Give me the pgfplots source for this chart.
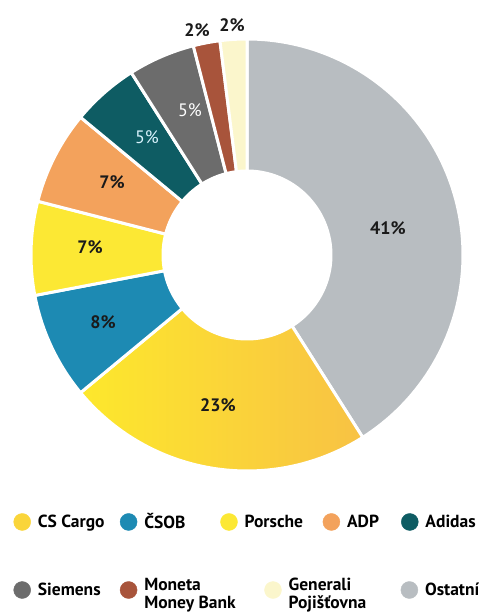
\documentclass[border=0pt]{standalone}
\usepackage{pgfplots}
\pgfplotsset{compat=1.18}
\usepackage{fontspec}
\setmainfont{PT Sans}
\definecolor{ostatni}{HTML}{B8BDC1}
\definecolor{cargoL}{HTML}{FDE82C}
\definecolor{cargoR}{HTML}{F8C244}
\definecolor{cargo}{HTML}{FAD53A}
\definecolor{csob}{HTML}{1D8AB3}
\definecolor{porsche}{HTML}{FCE834}
\definecolor{adp}{HTML}{F3A25C}
\definecolor{adidas}{HTML}{0E5C63}
\definecolor{siemens}{HTML}{6C6C6C}
\definecolor{moneta}{HTML}{A8543B}
\definecolor{generali}{HTML}{FBF6CC}
\definecolor{lbl}{HTML}{1A1A1A}
\newcommand\Ro{216}
\newcommand\Ri{84}
% \slice{cumulative start (%)}{share (%)}{fill options}
\newcommand\slice[3]{%
\addplot[#3, draw=white, line width=3pt, domain=0:2, samples=201, variable=\t]
 ({ifthenelse(\t<=1, \Ro*cos(90-3.6*(#1+#2*\t)), \Ri*cos(90-3.6*(#1+#2*min(1,(2-\t)*100/99))))},
  {ifthenelse(\t<=1, \Ro*sin(90-3.6*(#1+#2*\t)), \Ri*sin(90-3.6*(#1+#2*min(1,(2-\t)*100/99))))}) -- cycle;
}
\pgfplotsset{
  base/.style={x=1pt, y=1pt, xmin=-247, xmax=242, ymin=-358, ymax=255, hide axis, clip=false},
  circ/.style={legend image code/.code={\fill[#1] (8.5pt,0pt) circle (8.5pt);}},
  leg/.style={legend style={draw=none, fill=none, inner sep=0pt, outer sep=0pt, column sep=0pt,
     font=\bfseries\fontsize{17.5}{18}\selectfont, nodes={inner xsep=0pt, inner ysep=1pt}},
     legend cell align=left},
}
\newcommand\lt[2]{\makebox[#1pt][l]{\hspace{7pt}#2}}
\begin{document}
\begin{tikzpicture}
\begin{axis}[base]
% shares (%) clockwise from 12 o'clock: Ostatni 41, CS Cargo 23, CSOB 8, Porsche 7, ADP 7, Adidas 5, Siemens 5, Moneta 2, Generali 2
\slice{0}{41}{fill=ostatni}
\slice{41}{23}{left color=cargoL, right color=cargoR}
\slice{64}{8}{fill=csob}
\slice{72}{7}{fill=porsche}
\slice{79}{7}{fill=adp}
\slice{86}{5}{fill=adidas}
\slice{91}{5}{fill=siemens}
\slice{96}{2}{fill=moneta}
\slice{98}{2}{fill=generali}
\begin{scope}[every node/.style={font=\bfseries\fontsize{18}{18}\selectfont, text=lbl}]
\node at (axis cs:141,27) {41\%};
\node at (axis cs:-29,-150) {23\%};
\node at (axis cs:-144,-67) {8\%};
\node at (axis cs:-157,8) {7\%};
\node at (axis cs:-135,73) {7\%};
\node at (axis cs:-50,225) {2\%};
\node at (axis cs:-15,230) {2\%};
\end{scope}
\node[font=\fontsize{18}{18}\selectfont, text=white!85!cyan] at (axis cs:-100,118) {5\%};
\node[font=\fontsize{18}{18}\selectfont, text=white] at (axis cs:-57,145) {5\%};
\end{axis}
\begin{axis}[base, leg, legend columns=5, legend style={at={(0.0276,0.1485)}, anchor=west}]
\addlegendimage{circ=cargo}\addlegendentry{\lt{89}{CS Cargo}}
\addlegendimage{circ=csob}\addlegendentry{\lt{83}{ČSOB}}
\addlegendimage{circ=porsche}\addlegendentry{\lt{85}{Porsche}}
\addlegendimage{circ=adp}\addlegendentry{\lt{61}{ADP}}
\addlegendimage{circ=adidas}\addlegendentry{\lt{60}{Adidas}}
\end{axis}
\begin{axis}[base, leg, legend columns=4, legend style={at={(0.0276,0.0375)}, anchor=west}]
\addlegendimage{circ=siemens}\addlegendentry{\lt{89}{Siemens}}
\addlegendimage{circ=moneta}\addlegendentry{\lt{127}{\begin{tabular}{@{}l@{}}Moneta\\Money Bank\end{tabular}}}
\addlegendimage{circ=generali}\addlegendentry{\lt{119}{\begin{tabular}{@{}l@{}}Generali\\Pojišťovna\end{tabular}}}
\addlegendimage{circ=ostatni}\addlegendentry{\lt{55}{Ostatní}}
\end{axis}
\pgfresetboundingbox
\path (current axis.south west) rectangle (current axis.north east);
\end{tikzpicture}
\end{document}
